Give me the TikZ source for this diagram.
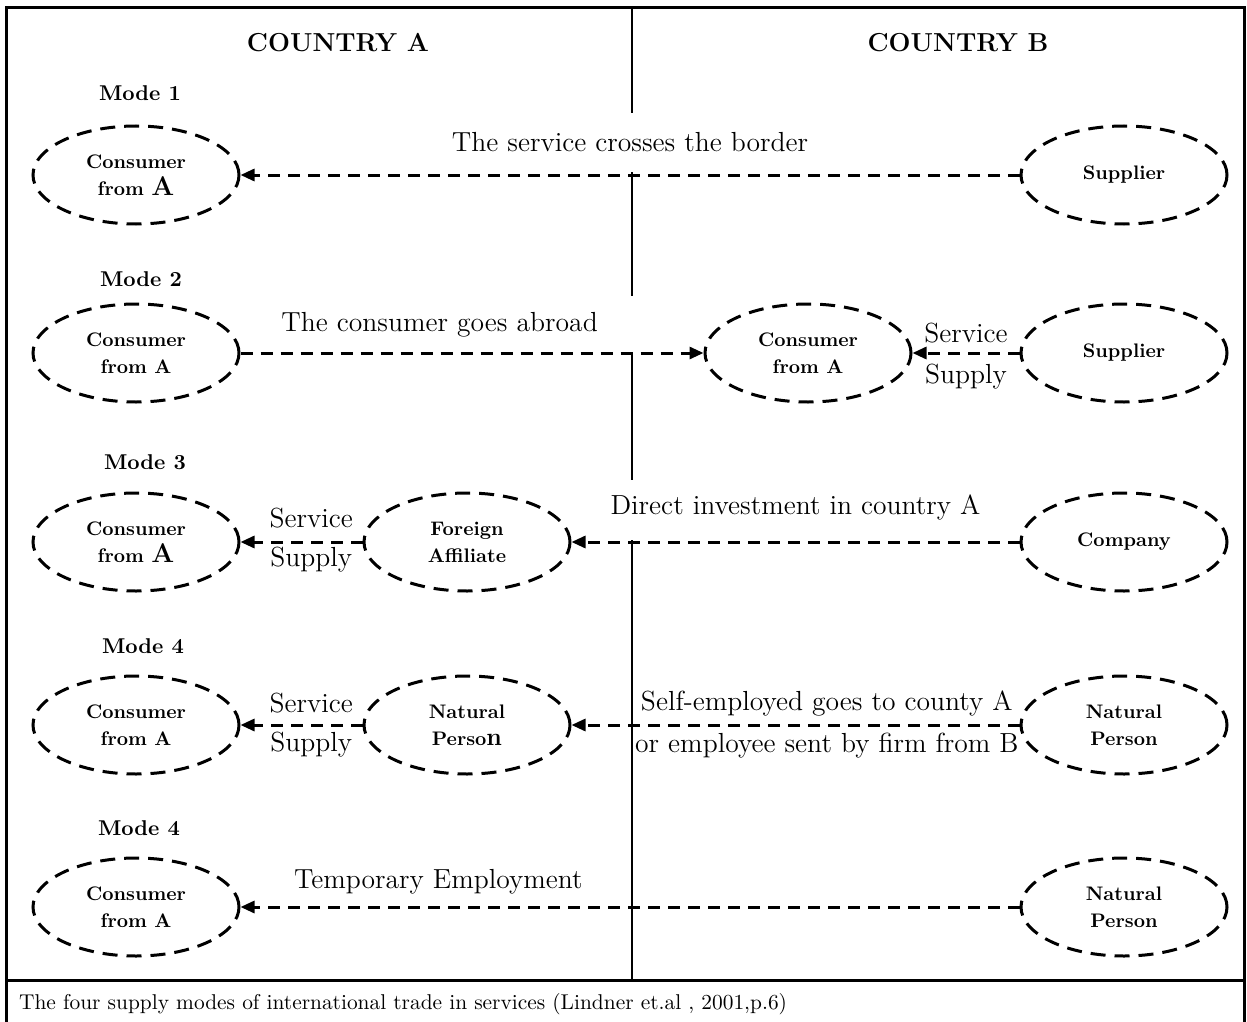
\documentclass[tikz,border=0pt]{standalone}
\usepackage{tikz}
\usetikzlibrary{shapes.geometric, arrows.meta, positioning}

\begin{document}
\begin{tikzpicture}[
    x=0.5pt, y=-0.5pt,
    >={Triangle[length=7pt,width=6pt]},
    party/.style={ellipse, draw, line width=1.5pt, dash pattern=on 7.5pt off 4.5pt,
                  minimum width=103pt, minimum height=49pt, inner sep=0pt, align=center,
                  font=\bfseries\fontsize{9.8}{13.5}\selectfont},
    flow/.style={->, line width=1.5pt, dash pattern=on 6pt off 4pt},
    tag/.style={font=\fontsize{13.8}{15}\selectfont, inner sep=0pt},
    country/.style={font=\bfseries\fontsize{13}{16}\selectfont},
    mode/.style={font=\bfseries\fontsize{10.7}{12}\selectfont}
]
\useasboundingbox (0,0) rectangle (1247,1022);
% frame, caption rule and border line
\draw[line width=1.5pt] (6,1030) -- (6,8) -- (1244,8) -- (1244,1030);
\draw[line width=1.5pt] (6,980) -- (1244,980);
\foreach \a/\b in {8/113, 172/296, 352/480, 540/980} {
    \draw[line width=1pt] (632,\a) -- (632,\b);
}
\node[country] (ctyA) at (338,43) {COUNTRY A};
\node[country] (ctyB) at (958,43) {COUNTRY B};

% mode 1
\node[mode] (m1) at (140,93) {Mode 1};
\node[party] (c1) at (136,175) {Consumer\\from {\fontsize{13.5}{13.5}\selectfont A}};
\node[party] (s1) at (1124,175) {Supplier};
\draw[flow] (s1.west) -- node[tag, yshift=16.5pt]{The service crosses the border} (c1.east);

% mode 2
\node[mode] (m2) at (141,279) {Mode 2};
\node[party] (c2) at (136,353) {Consumer\\from A};
\node[party] (c2b) at (808,353) {Consumer\\from A};
\node[party] (s2) at (1124,353) {Supplier};
\draw[flow] (c2.east) -- node[tag, pos=.43, yshift=14pt]{The consumer goes abroad} (c2b.west);
\draw[flow] (s2.west) -- node[tag, yshift=10pt]{Service} node[tag, yshift=-12pt]{Supply} (c2b.east);

% mode 3
\node[mode] (m3) at (145,462) {Mode 3};
\node[party] (c3) at (136,542) {Consumer\\from {\fontsize{13.5}{13.5}\selectfont A}};
\node[party] (fa) at (467,542) {Foreign\\Affiliate};
\node[party] (co) at (1124,542) {Company};
\draw[flow] (fa.west) -- node[tag, pos=.42, yshift=12pt]{Service} node[tag, pos=.42, yshift=-9pt]{Supply} (c3.east);
\draw[flow] (co.west) -- node[tag, yshift=17.5pt]{Direct investment in country A} (fa.east);

% mode 4, presence of natural persons
\node[mode] (m4) at (143,646) {Mode 4};
\node[party] (c4) at (136,725) {Consumer\\from A};
\node[party] (np) at (467,725) {Natural\\Perso{\fontsize{12.5}{13.5}\selectfont n}};
\node[party] (npb) at (1124,725) {Natural\\Person};
\draw[flow] (np.west) -- node[tag, pos=.42, yshift=11pt]{Service} node[tag, pos=.42, yshift=-10pt]{Supply} (c4.east);
\draw[flow] (npb.west) -- node[tag, pos=.43, yshift=11pt]{Self-employed goes to county A}
    node[tag, pos=.43, yshift=-10.5pt]{or employee sent by firm from B} (np.east);

% mode 4, temporary employment
\node[mode] (m5) at (139,828) {Mode 4};
\node[party] (c5) at (136,907) {Consumer\\from A};
\node[party] (npc) at (1124,907) {Natural\\Person};
\draw[flow] (npc.west) -- node[tag, pos=.746, yshift=12.5pt]{Temporary Employment} (c5.east);

\node[anchor=west, font=\fontsize{10.7}{12}\selectfont] (caption) at (12,1004)
    {The four supply modes of international trade in services (Lindner et.al , 2001,p.6)};
\end{tikzpicture}
\end{document}
